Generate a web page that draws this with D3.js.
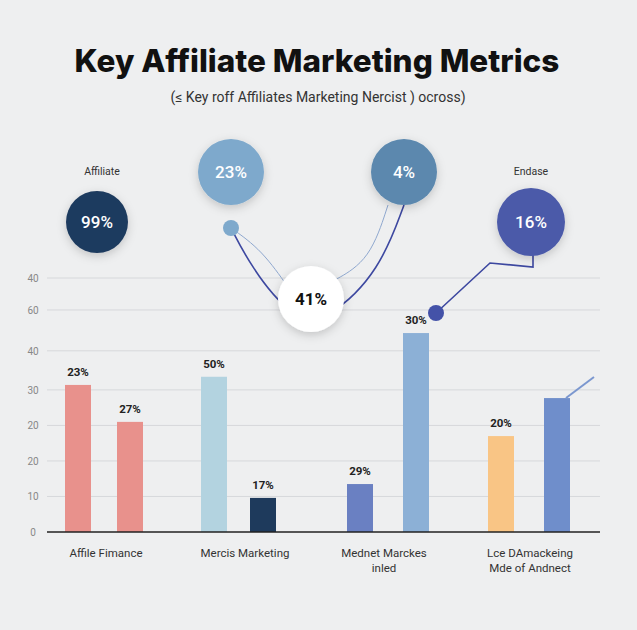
<!DOCTYPE html>
<html><head><meta charset="utf-8">
<script src="https://cdn.jsdelivr.net/npm/d3@7"></script>
<style>body{margin:0;background:#eeeff0}</style></head>
<body><svg id="c" width="637" height="630"></svg>
<script>
const categories=["Affile Fimance","Mercis Marketing","Mednet Marckes|inled","Lce DAmackeing|Mde of Andnect"];
const barValues=[41.4,31,43.7,9.6,13.5,56,27,37.7];
const barLabels=["23%","27%","50%","17%","29%","30%","20%",""];
const barColors=["#e8918c","#e8918c","#b3d3e0","#1e3a5c","#6a80c2","#8cb0d6","#f9c585","#6f8ecb"];
const tickValues=[0,10,20,30,40,51,62.5,71.5];
const tickLabels=["0","10","20","20","30","40","60","40"];
const bubbles=[{v:"99%",cx:97,cy:222,r:31,c:"#1f3b5e",t:"#fff"},{v:"23%",cx:231,cy:172,r:33,c:"#7ea9cc",t:"#fff"},{v:"4%",cx:404,cy:172,r:33,c:"#5b88ae",t:"#fff"},{v:"16%",cx:531,cy:222,r:34,c:"#4b5aa9",t:"#fff"},{v:"41%",cx:311,cy:299,r:33,c:"#ffffff",t:"#111"}];

const svg=d3.select("#c");
const defs=svg.append("defs");
const f=defs.append("filter").attr("id","sh").attr("x","-50%").attr("y","-50%").attr("width","200%").attr("height","200%");
f.append("feDropShadow").attr("dx",0).attr("dy",3).attr("stdDeviation",5).attr("flood-color","#000").attr("flood-opacity",0.18);

svg.append("text").attr("x",317).attr("y",72).attr("text-anchor","middle").attr("font-family","Inter, Roboto, sans-serif").attr("font-weight",800).attr("font-size",31.5).attr("fill","#111").text("Key Affiliate Marketing Metrics");
svg.append("text").attr("x",318).attr("y",102).attr("text-anchor","middle").attr("font-family","Roboto, sans-serif").attr("font-size",14).attr("fill","#333").text("(≤ Key roff Affiliates Marketing Nercist ) ocross)");

const y=d3.scaleLinear().domain([0,71.5]).range([532,278]);
const x=d3.scaleLinear().domain([0,637]).range([0,637]);
const barX=[65,117,201,250,347,403,488,544];
const g=svg.append("g");
g.selectAll(".grid").data(tickValues.slice(1)).join("line").attr("x1",47).attr("x2",600).attr("y1",d=>y(d)).attr("y2",d=>y(d)).attr("stroke","#d6d8db").attr("stroke-width",1);
g.selectAll(".tl").data(tickValues).join("text").attr("x",33).attr("y",d=>y(d)+4).attr("text-anchor","middle").attr("font-family","Roboto, sans-serif").attr("font-size",10).attr("fill","#888").text((d,i)=>tickLabels[i]);
g.selectAll(".bar").data(barValues).join("rect").attr("x",(d,i)=>x(barX[i])).attr("width",26).attr("y",d=>y(d)).attr("height",d=>y(0)-y(d)).attr("fill",(d,i)=>barColors[i]);
g.append("line").attr("x1",47).attr("x2",600).attr("y1",y(0)).attr("y2",y(0)).attr("stroke","#222").attr("stroke-width",1.5);
g.selectAll(".bl").data(barValues).join("text").attr("x",(d,i)=>barX[i]+13).attr("y",d=>y(d)-9).attr("text-anchor","middle").attr("font-family","Roboto, sans-serif").attr("font-weight",700).attr("font-size",11.5).attr("fill","#222").text((d,i)=>barLabels[i]);
const catX=[106,245,384,530];
categories.forEach((c,i)=>{c.split("|").forEach((l,j)=>svg.append("text").attr("x",catX[i]).attr("y",557+j*15).attr("text-anchor","middle").attr("font-family","Roboto, sans-serif").attr("font-size",11.5).attr("fill","#333").text(l));});

const line=d3.line().curve(d3.curveBasis);
svg.append("path").attr("d",line([[231,228],[250,265],[290,318],[330,320],[380,270],[404,205]])).attr("fill","none").attr("stroke","#3d48a0").attr("stroke-width",1.6);
svg.append("path").attr("d",line([[231,228],[262,250],[290,290]])).attr("fill","none").attr("stroke","#8fa8cf").attr("stroke-width",1);
svg.append("path").attr("d",line([[335,280],[370,260],[388,205]])).attr("fill","none").attr("stroke","#8fa8cf").attr("stroke-width",1);
svg.append("path").attr("d",d3.line()([[436,313],[490,263],[533,267],[533,255]])).attr("fill","none").attr("stroke","#3d48a0").attr("stroke-width",1.6);
svg.append("path").attr("d",d3.line()([[566,398],[594,377]])).attr("stroke","#7b97cf").attr("stroke-width",2);
svg.append("circle").attr("cx",231).attr("cy",228).attr("r",8).attr("fill","#7ea9cc");
svg.append("circle").attr("cx",436).attr("cy",313).attr("r",8).attr("fill","#4452a8");

svg.selectAll(".bub").data(bubbles).join("circle").attr("cx",d=>d.cx).attr("cy",d=>d.cy).attr("r",d=>d.r).attr("fill",d=>d.c).attr("filter","url(#sh)");
svg.selectAll(".bt").data(bubbles).join("text").attr("x",d=>d.cx).attr("y",d=>d.cy+6).attr("text-anchor","middle").attr("font-family","Roboto, sans-serif").attr("font-weight",d=>d.t=="#111"?700:500).attr("font-size",17).attr("fill",d=>d.t).text(d=>d.v);
svg.append("text").attr("x",102).attr("y",175).attr("text-anchor","middle").attr("font-family","Roboto, sans-serif").attr("font-size",10.5).attr("fill","#333").text("Affiliate");
svg.append("text").attr("x",531).attr("y",175).attr("text-anchor","middle").attr("font-family","Roboto, sans-serif").attr("font-size",10.5).attr("fill","#333").text("Endase");
</script></body></html>
